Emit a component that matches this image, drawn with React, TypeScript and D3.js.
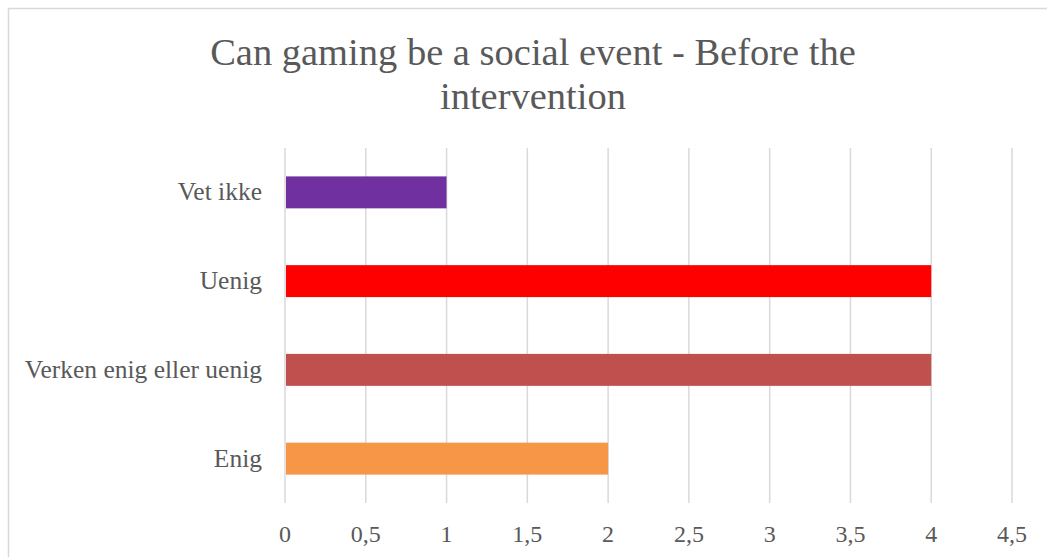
import React, { useEffect, useRef } from "react";
import * as d3 from "d3";

const categories = ["Vet ikke", "Uenig", "Verken enig eller uenig", "Enig"];
const values = [1, 4, 4, 2];
const colors = ["#7030A0", "#FF0000", "#C0504D", "#F79646"];
const xTicks = [0, 0.5, 1, 1.5, 2, 2.5, 3, 3.5, 4, 4.5];
const titleLines = ["Can gaming be a social event - Before the", "intervention"];

export default function App() {
  const ref = useRef<SVGSVGElement>(null);
  useEffect(() => {
    const svg = d3.select(ref.current);
    svg.selectAll("*").remove();
    const W = 1047, H = 557;
    const font = "'Liberation Serif', serif";
    const textColor = "#595959";

    svg.append("rect").attr("x", 0).attr("y", 0).attr("width", W).attr("height", H).attr("fill", "#fff");
    svg.append("rect").attr("x", 8.5).attr("y", 8.5).attr("width", 2000).attr("height", 2000)
      .attr("fill", "none").attr("stroke", "#D9D9D9").attr("stroke-width", 1.5);

    const x = d3.scaleLinear().domain([0, 4.5]).range([285, 1012]);
    const y = d3.scaleBand<string>().domain(categories).range([148, 503]).paddingInner(0.64).paddingOuter(0.32);

    // gridlines
    svg.append("g").selectAll("line").data(xTicks).join("line")
      .attr("x1", d => x(d)).attr("x2", d => x(d))
      .attr("y1", 148).attr("y2", 503)
      .attr("stroke", "#D9D9D9").attr("stroke-width", 1.5);

    // bars
    svg.append("g").selectAll("rect").data(categories).join("rect")
      .attr("x", x(0) + 1)
      .attr("y", d => y(d)!)
      .attr("width", (d, i) => x(values[i]) - x(0) - 1)
      .attr("height", y.bandwidth())
      .attr("fill", (d, i) => colors[i]);

    // category labels
    svg.append("g").selectAll("text").data(categories).join("text")
      .attr("x", 262)
      .attr("y", d => y(d)! + y.bandwidth() / 2 + 8)
      .attr("text-anchor", "end")
      .attr("font-family", font).attr("font-size", 25.5).attr("fill", textColor)
      .text(d => d);

    // tick labels
    svg.append("g").selectAll("text").data(xTicks).join("text")
      .attr("x", d => x(d))
      .attr("y", 542)
      .attr("text-anchor", "middle")
      .attr("font-family", font).attr("font-size", 24).attr("fill", textColor)
      .text(d => String(d).replace(".", ","));

    // title
    svg.append("g").selectAll("text").data(titleLines).join("text")
      .attr("x", 533)
      .attr("y", (d, i) => 65 + i * 44)
      .attr("text-anchor", "middle")
      .attr("font-family", font).attr("font-size", 38.5).attr("fill", textColor)
      .text(d => d);
  }, []);
  return (
    <svg ref={ref} width={1047} height={557}
      style={{ position: "absolute", left: 0, top: 0, display: "block" }} />
  );
}
